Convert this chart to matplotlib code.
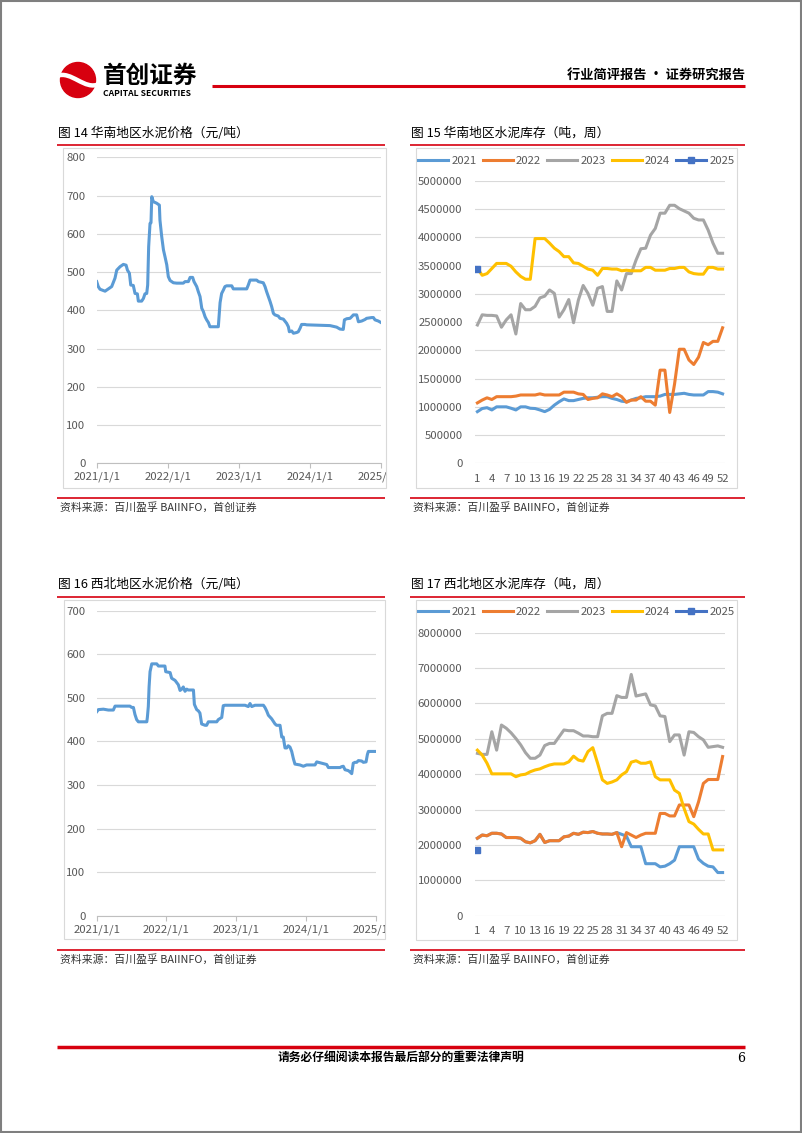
import matplotlib.pyplot as plt
import pandas as pd
from matplotlib.patches import Rectangle, Circle, PathPatch
from matplotlib.path import Path
from matplotlib.ticker import FuncFormatter

plt.rcParams['font.family'] = ['Noto Sans CJK SC', 'DejaVu Sans']

# ---- 图14 华南地区水泥价格（元/吨）
sc_price_dates = ['2021-01-01', '2021-01-09', '2021-01-18', '2021-02-13', '2021-03-19', '2021-04-05',
                  '2021-04-14', '2021-05-01', '2021-05-18', '2021-06-01', '2021-06-08', '2021-06-18',
                  '2021-06-25', '2021-07-08', '2021-07-17', '2021-07-29', '2021-08-03', '2021-08-20',
                  '2021-08-29', '2021-09-06', '2021-09-15', '2021-09-20', '2021-09-25', '2021-10-02',
                  '2021-10-07', '2021-10-11', '2021-10-19', '2021-11-05', '2021-11-19', '2021-11-22',
                  '2021-12-01', '2021-12-10', '2021-12-18', '2021-12-27', '2022-01-04', '2022-01-13',
                  '2022-01-30', '2022-02-16', '2022-03-22', '2022-03-31', '2022-04-17', '2022-04-26',
                  '2022-05-09', '2022-05-16', '2022-05-30', '2022-06-07', '2022-06-16', '2022-06-25',
                  '2022-07-03', '2022-07-12', '2022-07-20', '2022-07-29', '2022-08-06', '2022-09-18',
                  '2022-09-27', '2022-10-05', '2022-10-14', '2022-10-22', '2022-10-31', '2022-11-26',
                  '2022-12-04', '2023-02-11', '2023-02-19', '2023-02-28', '2023-04-03', '2023-04-12',
                  '2023-05-07', '2023-05-16', '2023-05-24', '2023-06-02', '2023-06-11', '2023-06-19',
                  '2023-06-28', '2023-07-06', '2023-07-23', '2023-08-01', '2023-08-18', '2023-09-04',
                  '2023-09-13', '2023-09-18', '2023-09-30', '2023-10-09', '2023-10-26', '2023-11-03',
                  '2023-11-12', '2023-11-20', '2023-12-07', '2023-12-16', '2024-04-14', '2024-05-18',
                  '2024-06-04', '2024-06-21', '2024-06-27', '2024-07-09', '2024-07-26', '2024-08-03',
                  '2024-08-12', '2024-08-29', '2024-09-07', '2024-09-24', '2024-10-11', '2024-10-19',
                  '2024-11-14', '2024-11-23', '2024-12-01', '2024-12-18', '2025-01-01']
sc_price = [475, 462, 455, 450, 462, 484, 505, 514, 520, 518, 505, 497,
            466, 465, 444, 443, 424, 424, 431, 443, 444, 466, 566, 627,
            629, 697, 684, 680, 675, 636, 593, 558, 540, 519, 488, 478,
            472, 471, 471, 475, 475, 486, 486, 475, 462, 449, 436, 405,
            397, 383, 375, 368, 357, 357, 420, 444, 453, 462, 464, 464,
            456, 456, 466, 479, 479, 475, 472, 462, 449, 436, 423, 410,
            392, 388, 385, 379, 377, 366, 357, 344, 346, 340, 342, 344,
            353, 363, 363, 362, 360, 356, 351, 350, 375, 378, 379, 383,
            388, 388, 370, 372, 376, 379, 381, 381, 375, 372, 368]

# ---- 图16 西北地区水泥价格（元/吨）
nw_price_dates = ['2021-01-01', '2021-01-10', '2021-02-05', '2021-03-03', '2021-03-29', '2021-04-07',
                  '2021-06-24', '2021-07-03', '2021-07-12', '2021-07-20', '2021-07-29', '2021-08-07',
                  '2021-09-20', '2021-09-23', '2021-09-28', '2021-10-02', '2021-10-07', '2021-10-16',
                  '2021-11-11', '2021-11-20', '2021-12-24', '2021-12-28', '2022-01-20', '2022-01-28',
                  '2022-02-15', '2022-03-04', '2022-03-13', '2022-03-22', '2022-03-30', '2022-04-08',
                  '2022-04-17', '2022-04-25', '2022-05-22', '2022-05-27', '2022-06-08', '2022-06-17',
                  '2022-06-25', '2022-07-04', '2022-07-22', '2022-07-30', '2022-08-08', '2022-09-21',
                  '2022-09-29', '2022-10-17', '2022-10-25', '2022-11-03', '2023-02-16', '2023-03-05',
                  '2023-03-14', '2023-03-23', '2023-04-09', '2023-05-23', '2023-05-31', '2023-06-09',
                  '2023-06-18', '2023-07-05', '2023-07-23', '2023-07-31', '2023-08-18', '2023-08-27',
                  '2023-09-04', '2023-09-13', '2023-09-22', '2023-09-30', '2023-10-09', '2023-10-18',
                  '2023-10-27', '2023-11-04', '2023-11-30', '2023-12-18', '2024-01-04', '2024-02-17',
                  '2024-02-26', '2024-03-23', '2024-04-18', '2024-04-27', '2024-06-27', '2024-07-05',
                  '2024-07-14', '2024-07-23', '2024-08-09', '2024-08-18', '2024-08-27', '2024-09-04',
                  '2024-09-13', '2024-09-22', '2024-10-01', '2024-10-18', '2024-10-27', '2024-11-10',
                  '2024-11-17', '2024-11-22', '2025-01-01']
nw_price = [468, 473, 474, 472, 472, 481, 481, 478, 478, 462, 450, 445,
            445, 455, 480, 525, 560, 578, 578, 573, 573, 560, 558, 545,
            540, 530, 517, 520, 525, 515, 520, 518, 518, 485, 473, 470,
            465, 440, 437, 437, 445, 445, 450, 455, 482, 483, 483, 480,
            487, 480, 483, 483, 478, 470, 460, 452, 440, 437, 437, 410,
            410, 385, 385, 390, 387, 377, 360, 348, 346, 343, 346, 346,
            353, 350, 347, 340, 340, 342, 343, 335, 333, 330, 326, 350,
            352, 352, 356, 355, 352, 353, 370, 377, 377]

price_tick_dates = ['2021-01-01', '2022-01-01', '2023-01-01', '2024-01-01', '2025-01-01']
price_tick_labels = ['2021/1/1', '2022/1/1', '2023/1/1', '2024/1/1', '2025/1/1']

# ---- 周度库存（吨），第1-52周
weeks = list(range(1, 53))
years = ['2021', '2022', '2023', '2024', '2025']

# 图15 华南地区水泥库存
sc_2021 = [915000, 970000, 985000, 945000, 1000000, 1000000, 1000000, 975000, 945000, 1000000,
           1000000, 975000, 970000, 945000, 915000, 955000, 1030000, 1090000, 1140000, 1110000,
           1110000, 1130000, 1150000, 1160000, 1160000, 1170000, 1180000, 1180000, 1150000, 1130000,
           1100000, 1090000, 1120000, 1150000, 1160000, 1180000, 1180000, 1180000, 1190000, 1220000,
           1220000, 1220000, 1230000, 1240000, 1220000, 1210000, 1210000, 1210000, 1270000, 1270000,
           1260000, 1230000]
sc_2022 = [1070000, 1120000, 1160000, 1130000, 1180000, 1180000, 1180000, 1180000, 1190000, 1210000,
           1210000, 1210000, 1210000, 1230000, 1210000, 1210000, 1210000, 1210000, 1260000, 1260000,
           1260000, 1230000, 1220000, 1130000, 1150000, 1160000, 1230000, 1210000, 1180000, 1230000,
           1180000, 1080000, 1120000, 1120000, 1180000, 1100000, 1100000, 1030000, 1650000, 1650000,
           900000, 1400000, 2020000, 2020000, 1830000, 1750000, 1880000, 2140000, 2100000, 2160000,
           2160000, 2400000]
sc_2023 = [2450000, 2630000, 2620000, 2620000, 2610000, 2410000, 2540000, 2630000, 2290000, 2830000,
           2720000, 2720000, 2780000, 2930000, 2960000, 3070000, 3010000, 2590000, 2720000, 2900000,
           2490000, 2890000, 3150000, 3010000, 2800000, 3100000, 3130000, 2690000, 2690000, 3230000,
           3070000, 3360000, 3360000, 3600000, 3800000, 3810000, 4040000, 4160000, 4430000, 4430000,
           4570000, 4570000, 4510000, 4470000, 4430000, 4340000, 4310000, 4310000, 4130000, 3900000,
           3720000, 3720000]
sc_2024 = [3450000, 3330000, 3360000, 3450000, 3540000, 3540000, 3540000, 3490000, 3390000, 3310000,
           3260000, 3260000, 3980000, 3980000, 3980000, 3900000, 3810000, 3750000, 3660000, 3660000,
           3550000, 3540000, 3490000, 3440000, 3420000, 3330000, 3450000, 3450000, 3440000, 3440000,
           3410000, 3420000, 3410000, 3410000, 3410000, 3470000, 3470000, 3420000, 3420000, 3420000,
           3450000, 3450000, 3470000, 3470000, 3390000, 3360000, 3350000, 3350000, 3470000, 3470000,
           3440000, 3440000]
sc_2025 = [3450000]

# 图17 西北地区水泥库存
nw_2021 = [2190000, 2280000, 2260000, 2330000, 2330000, 2310000, 2210000, 2210000, 2210000, 2190000,
           2090000, 2060000, 2120000, 2300000, 2070000, 2120000, 2120000, 2120000, 2230000, 2250000,
           2330000, 2300000, 2360000, 2350000, 2380000, 2330000, 2310000, 2310000, 2300000, 2350000,
           2300000, 2250000, 1950000, 1950000, 1950000, 1470000, 1470000, 1470000, 1380000, 1400000,
           1470000, 1570000, 1950000, 1950000, 1950000, 1950000, 1600000, 1480000, 1400000, 1380000,
           1220000, 1220000]
nw_2022 = [2190000, 2280000, 2260000, 2330000, 2330000, 2310000, 2210000, 2210000, 2210000, 2190000,
           2090000, 2060000, 2120000, 2300000, 2070000, 2120000, 2120000, 2120000, 2230000, 2250000,
           2330000, 2300000, 2360000, 2350000, 2380000, 2330000, 2310000, 2310000, 2300000, 2350000,
           1950000, 2350000, 2280000, 2210000, 2280000, 2330000, 2330000, 2330000, 2890000, 2890000,
           2820000, 2820000, 3130000, 3130000, 3130000, 2800000, 3220000, 3740000, 3850000, 3850000,
           3850000, 4500000]
nw_2023 = [4590000, 4560000, 4560000, 5200000, 4680000, 5390000, 5300000, 5170000, 5010000, 4830000,
           4610000, 4450000, 4450000, 4540000, 4810000, 4870000, 4870000, 5060000, 5250000, 5230000,
           5230000, 5160000, 5080000, 5080000, 5060000, 5060000, 5650000, 5720000, 5720000, 6220000,
           6170000, 6170000, 6820000, 6210000, 6240000, 6270000, 5960000, 5930000, 5650000, 5630000,
           4920000, 5110000, 5110000, 4540000, 5200000, 5180000, 5060000, 4970000, 4760000, 4780000,
           4800000, 4760000]
nw_2024 = [4680000, 4540000, 4310000, 4010000, 4010000, 4010000, 4010000, 4010000, 3930000, 3980000,
           4000000, 4070000, 4120000, 4150000, 4210000, 4260000, 4290000, 4290000, 4290000, 4350000,
           4510000, 4400000, 4370000, 4640000, 4750000, 4310000, 3840000, 3740000, 3780000, 3840000,
           3980000, 4070000, 4340000, 4380000, 4310000, 4310000, 4350000, 3930000, 3840000, 3840000,
           3840000, 3550000, 3460000, 3030000, 2660000, 2590000, 2440000, 2310000, 2310000, 1860000,
           1860000, 1860000]
nw_2025 = [1850000]

# ---- 画图
W, H = 802, 1133
RED = '#D7000F'
GRID = '#D9D9D9'
TXT = '#595959'
COLORS = ['#5B9BD5', '#ED7D31', '#A5A5A5', '#FFC000', '#4472C4']
TICK_FS = 8.2

fig = plt.figure(figsize=(W / 100, H / 100), dpi=100)


def box(x0, y0, x1, y1):
    # pixel box (top-left origin) -> figure fraction
    return [x0 / W, 1 - y1 / H, (x1 - x0) / W, (y1 - y0) / H]


page = fig.add_axes([0, 0, 1, 1])
page.set_xlim(0, W)
page.set_ylim(H, 0)
page.axis('off')

# page border
page.add_patch(Rectangle((1, 1), W - 2, H - 2, fill=False, ec='#7F7F7F', lw=1.5))

# logo + header
page.add_patch(Circle((78, 80), 17.5, color=RED))
s_path = Path([(57, 76), (71, 70), (85, 91), (99, 84)],
              [Path.MOVETO, Path.CURVE4, Path.CURVE4, Path.CURVE4])
page.add_patch(PathPatch(s_path, fill=False, ec='white', lw=3.2, capstyle='butt'))
page.text(103, 76, '首创证券', fontsize=17, fontweight='bold', va='center', ha='left')
page.text(103, 93, 'CAPITAL SECURITIES', fontsize=6.2, fontweight='bold', va='center', ha='left')
page.text(745, 75, '行业简评报告 · 证券研究报告', fontsize=9.5, fontweight='bold', va='center', ha='right')
page.plot([212, 745], [86, 86], color=RED, lw=2.2, solid_capstyle='butt')

# footer
page.plot([57, 745], [1047, 1047], color=RED, lw=2.5, solid_capstyle='butt')
page.text(401, 1058, '请务必仔细阅读本报告最后部分的重要法律声明', fontsize=8.5, fontweight='bold',
          va='center', ha='center')
page.text(745, 1058, '6', fontsize=9, va='center', ha='right', family='DejaVu Serif')


def panel_text(x0, x1, y_title, y_line, y_src_line, y_src, title):
    page.text(x0 + 1, y_title, title, fontsize=9.2, va='center', ha='left')
    page.plot([x0, x1], [y_line, y_line], color=RED, lw=1.2, solid_capstyle='butt')
    page.plot([x0, x1], [y_src_line, y_src_line], color=RED, lw=1.2, solid_capstyle='butt')
    page.text(x0 + 3, y_src, '资料来源：百川盈孚 BAIINFO，首创证券', fontsize=7.8, va='center',
              ha='left', color='#333333', style='italic')


def price_chart(frame, area, dates, values, ymax):
    fr = Rectangle((frame[0], frame[1]), frame[2] - frame[0], frame[3] - frame[1],
                   fill=False, ec=GRID, lw=0.8)
    page.add_patch(fr)
    ax = fig.add_axes(box(*area))
    ax.set_facecolor('none')
    ax.plot(pd.to_datetime(dates), values, color=COLORS[0], lw=2.2, solid_joinstyle='round')
    ax.set_xlim(pd.Timestamp('2021-01-01'), pd.Timestamp('2025-01-01'))
    ax.set_ylim(0, ymax)
    ax.set_yticks(range(0, ymax + 1, 100))
    ax.grid(axis='y', color=GRID, lw=0.8)
    ax.set_axisbelow(True)
    for s in ['top', 'right', 'left']:
        ax.spines[s].set_visible(False)
    ax.spines['bottom'].set_color('#BFBFBF')
    ax.spines['bottom'].set_linewidth(0.8)
    ax.set_xticks(pd.to_datetime(price_tick_dates))
    ax.set_xticklabels(price_tick_labels)
    ax.tick_params(axis='x', direction='out', length=3.5, width=0.8, color='#BFBFBF',
                   labelsize=TICK_FS, labelcolor=TXT, pad=2.5)
    ax.tick_params(axis='y', length=0, labelsize=TICK_FS, labelcolor=TXT, pad=8)
    # last date label is cut by the chart frame
    ax.xaxis.get_major_ticks()[-1].label1.set_clip_path(fr)
    return ax


def stock_chart(frame, area, ymax, step, series, legend_y):
    fr = Rectangle((frame[0], frame[1]), frame[2] - frame[0], frame[3] - frame[1],
                   fill=False, ec=GRID, lw=0.8)
    page.add_patch(fr)
    ax = fig.add_axes(box(*area))
    ax.set_facecolor('none')
    for i, (yr, vals) in enumerate(zip(years, series)):
        if yr == '2025':
            ax.plot(weeks[:len(vals)], vals, color=COLORS[i], lw=2.2, marker='s', ms=5, label=yr)
        else:
            ax.plot(weeks, vals, color=COLORS[i], lw=2.2, label=yr)
    ax.set_xlim(0.5, 52.5)
    ax.set_ylim(0, ymax)
    ax.set_yticks(range(0, ymax + 1, step))
    ax.yaxis.set_major_formatter(FuncFormatter(lambda v, p: f'{v:.0f}'))
    ax.set_xticks(weeks[::3])
    ax.grid(axis='y', color=GRID, lw=0.8)
    ax.set_axisbelow(True)
    for s in ax.spines.values():
        s.set_visible(False)
    ax.tick_params(axis='x', length=0, labelsize=TICK_FS, labelcolor=TXT, pad=7.5)
    ax.tick_params(axis='y', length=0, labelsize=TICK_FS, labelcolor=TXT, pad=9)
    cx = (frame[0] + frame[2]) / 2 / W
    ax.legend(loc='center', bbox_to_anchor=(cx, 1 - legend_y / H), bbox_transform=fig.transFigure,
              ncol=5, frameon=False, fontsize=TICK_FS, handlelength=2.6, handletextpad=0.3,
              columnspacing=0.55, labelcolor=TXT)
    return ax


panel_text(57, 385, 133, 145, 498, 507, '图 14 华南地区水泥价格（元/吨）')
panel_text(410, 745, 133, 145, 498, 507, '图 15 华南地区水泥库存（吨，周）')
panel_text(57, 385, 584, 597, 950, 959, '图 16 西北地区水泥价格（元/吨）')
panel_text(410, 745, 584, 597, 950, 959, '图 17 西北地区水泥库存（吨，周）')

price_chart((63, 148, 386, 488), (96.7, 157.3, 381, 463.3), sc_price_dates, sc_price, 800)
price_chart((64, 600, 385, 939), (96.7, 610.7, 376, 915.7), nw_price_dates, nw_price, 700)
stock_chart((416, 148, 737, 488), (475, 181, 725, 463.3), 5000000, 500000,
            [sc_2021, sc_2022, sc_2023, sc_2024, sc_2025], 160.7)
stock_chart((416, 600, 737, 940), (475, 632.7, 725, 915.7), 8000000, 1000000,
            [nw_2021, nw_2022, nw_2023, nw_2024, nw_2025], 611.7)

fig.savefig('out.png', dpi=100)
